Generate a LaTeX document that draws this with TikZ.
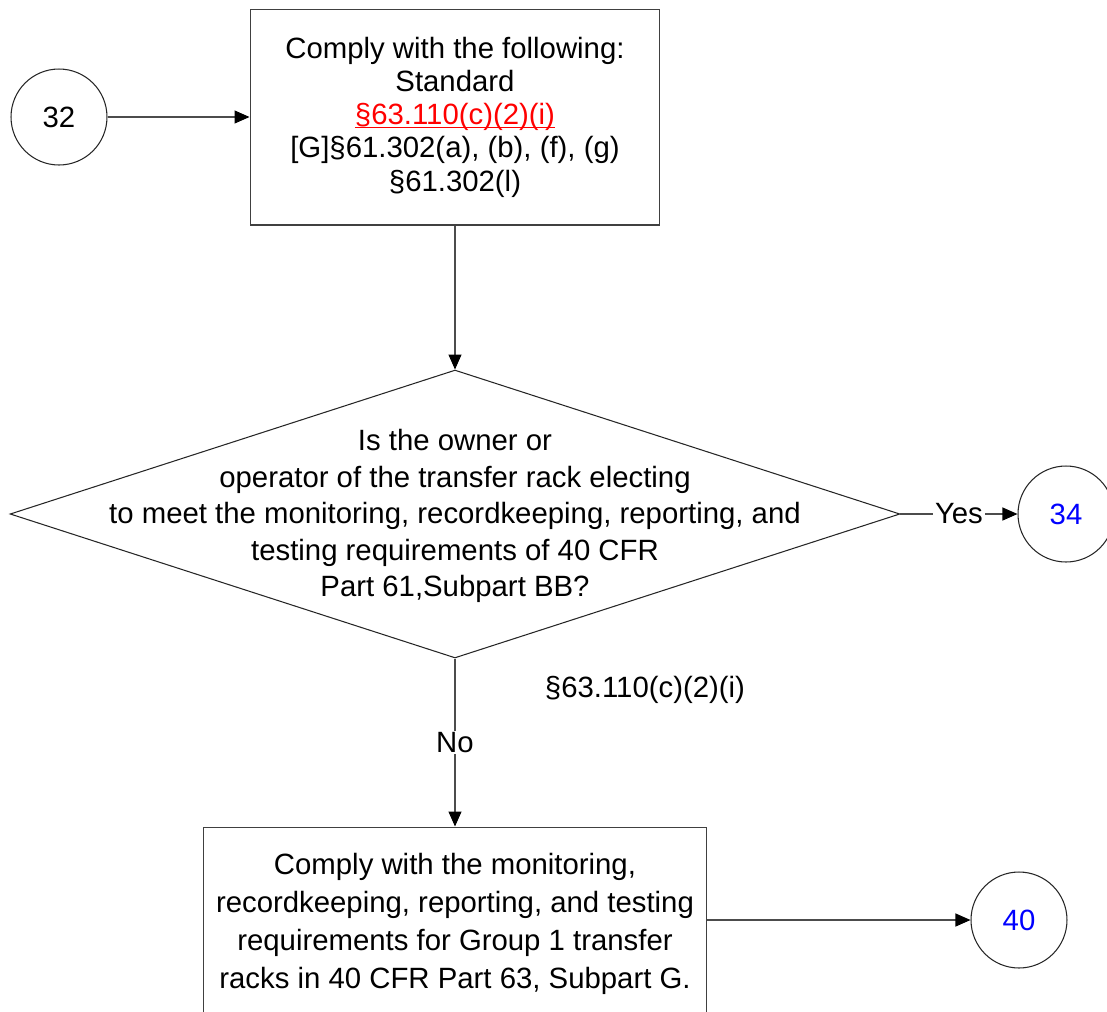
\documentclass[tikz,border=0pt]{standalone}
\usepackage{fontspec}
\setmainfont{Liberation Sans}
\usetikzlibrary{shapes.geometric,arrows.meta}

\definecolor{linkred}{RGB}{255,0,0}
\definecolor{linkblue}{RGB}{0,0,255}

\newcommand{\redlink}[1]{{\color{linkred}\setbox0\hbox{#1}\rlap{\rule[-1.9pt]{\wd0}{0.7pt}}\box0}}

\tikzset{
	conn/.style={draw=black!70, line width=0.6pt, -{Triangle[length=0.3cm,width=0.26cm,color=black]}},
	stepbox/.style={draw=black!75, line width=0.6pt, rectangle, align=center, inner sep=0pt},
	decision/.style={draw=black!85, line width=0.6pt, diamond, inner sep=0pt},
	offpage/.style={draw=black!85, line width=0.6pt, circle, minimum size=1.92cm, inner sep=0pt},
	edgetext/.style={fill=white, inner sep=1pt}
}

\begin{document}
\begin{tikzpicture}[x=0.02cm, y=-0.02cm, font=\fontsize{16.7}{18.9}\selectfont]

		\useasboundingbox (0,0) rectangle (1107,1012);
		\clip (0,0) rectangle (1107,1012);

		% connectors to other pages
		\node[offpage] (c32) at (59,117) {32};
		\node[offpage, text=linkblue] (c34) at (1066,514) {34};
		\node[offpage, text=linkblue] (c40) at (1019,920) {40};

		\node[stepbox, minimum width=8.2cm, minimum height=4.32cm] (comply) at (455,117) {Comply with the following:\\Standard\\\redlink{§63.110(c)(2)(i)}\\{[G]}§61.302(a), (b), (f), (g)\\§61.302(l)};

		\node[decision, minimum width=17.8cm, minimum height=5.76cm] (elect) at (455,514) {};
		\node[align=center, font=\fontsize{16.7}{20.8}\selectfont] (electtext) at (455,516) {Is the owner or\\operator of the transfer rack electing\\to meet the monitoring, recordkeeping, reporting, and\\testing requirements of 40 CFR\\Part 61,Subpart BB?};

		\node (cite) at (645,690) {§63.110(c)(2)(i)};

		\node[stepbox, minimum width=10.06cm, minimum height=3.88cm, font=\fontsize{16.7}{21.6}\selectfont] (reqs) at (455,924) {Comply with the monitoring,\\recordkeeping, reporting, and testing\\requirements for Group 1 transfer\\racks in 40 CFR Part 63, Subpart G.};

		\draw[conn] (c32) -- (comply);
		\draw[conn] (comply) -- (elect);
		\draw[conn] (elect.east) -- node[edgetext] {Yes} (c34);
		\draw[conn] (elect.south) -- node[edgetext] {No} (reqs);
		\draw[conn] (reqs.east |- c40) -- (c40);

	\end{tikzpicture}
\end{document}
